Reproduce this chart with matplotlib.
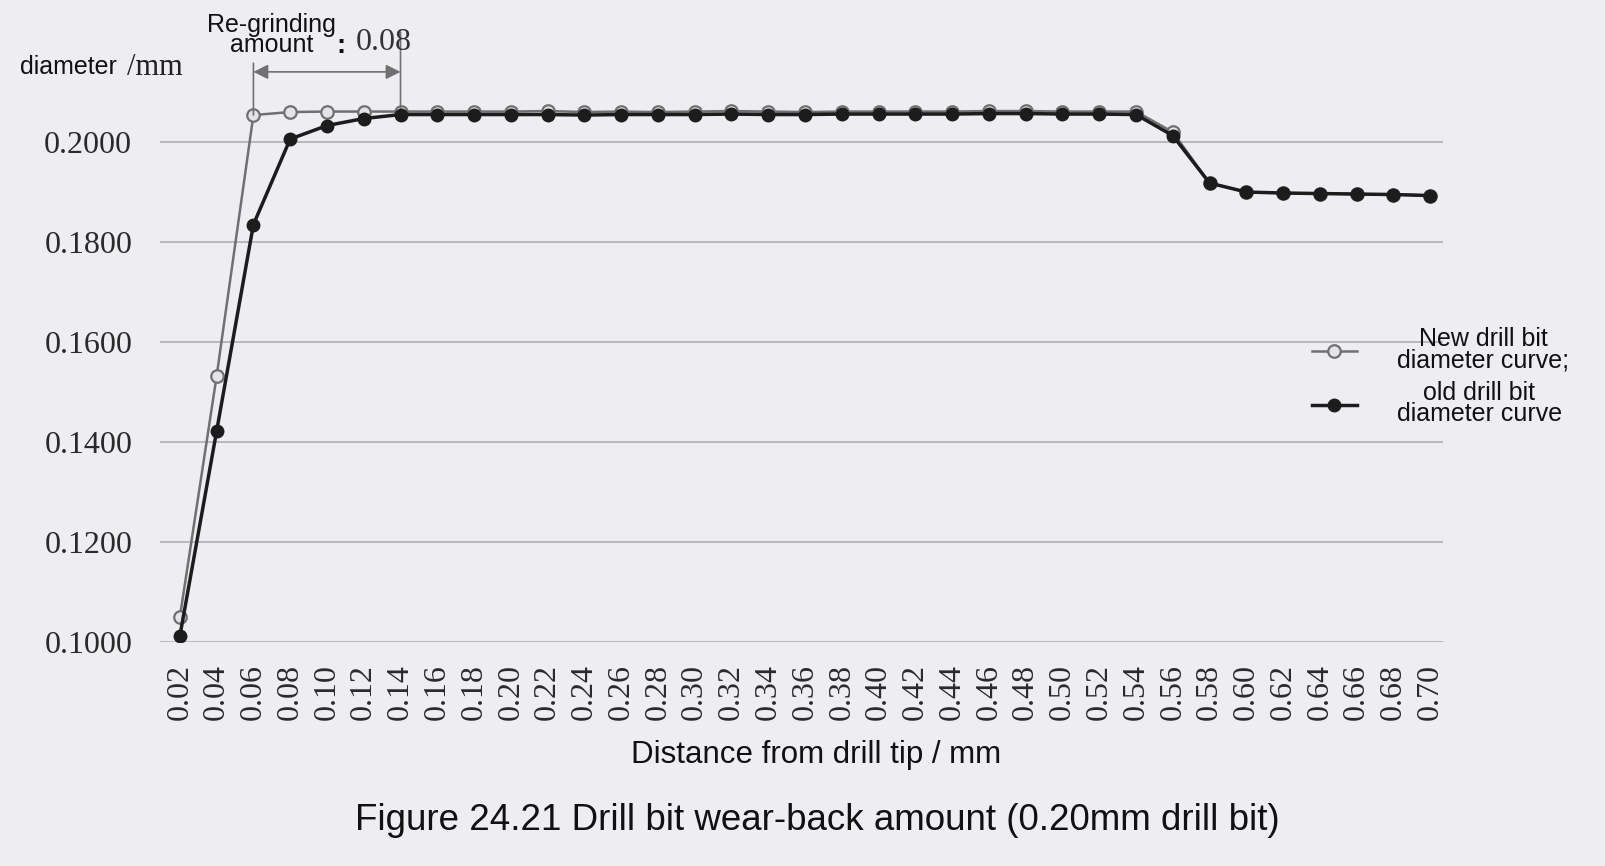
import matplotlib
matplotlib.use("Agg")
import matplotlib.pyplot as plt

# ---------------- data ----------------
distance_labels = ["0.02", "0.04", "0.06", "0.08", "0.10", "0.12", "0.14", "0.16", "0.18", "0.20",
                   "0.22", "0.24", "0.26", "0.28", "0.30", "0.32", "0.34", "0.36", "0.38", "0.40",
                   "0.42", "0.44", "0.46", "0.48", "0.50", "0.52", "0.54", "0.56", "0.58", "0.60",
                   "0.62", "0.64", "0.66", "0.68", "0.70"]
new_bit = [0.1050, 0.1532, 0.2054, 0.2060, 0.2061, 0.2061, 0.2061, 0.2061, 0.2061, 0.2061,
           0.2062, 0.2060, 0.2061, 0.2060, 0.2061, 0.2062, 0.2061, 0.2060, 0.2061, 0.2061,
           0.2061, 0.2061, 0.2062, 0.2062, 0.2061, 0.2061, 0.2061, 0.2020, 0.1918, 0.1900,
           0.1898, 0.1897, 0.1896, 0.1895, 0.1893]
old_bit = [0.1012, 0.1422, 0.1835, 0.2006, 0.2033, 0.2047, 0.2055, 0.2055, 0.2055, 0.2055,
           0.2055, 0.2054, 0.2055, 0.2055, 0.2055, 0.2056, 0.2055, 0.2055, 0.2056, 0.2056,
           0.2056, 0.2056, 0.2057, 0.2057, 0.2056, 0.2056, 0.2055, 0.2013, 0.1918, 0.1900,
           0.1898, 0.1897, 0.1896, 0.1895, 0.1893]
y_ticks = [0.1000, 0.1200, 0.1400, 0.1600, 0.1800, 0.2000]
regrind_from, regrind_to = 2, 6   # category indices of 0.06 and 0.14

BG = "#eeedf1"
NEW_C = "#707070"
OLD_C = "#1c1c1c"
SANS = ["Liberation Sans", "DejaVu Sans"]
SERIF = ["Liberation Serif", "DejaVu Serif"]

fig = plt.figure(figsize=(16.05, 8.66), dpi=100, facecolor=BG)
ax = fig.add_axes([0.0997, 0.2587, 0.7994, 0.635])
ax.set_facecolor(BG)

x = list(range(len(distance_labels)))
l_new, = ax.plot(x, new_bit, color=NEW_C, lw=1.8, marker="o", ms=9,
                 mfc="#e4e4e8", mec=NEW_C, mew=1.6, zorder=3,
                 label="New drill bit\ndiameter curve;")
l_old, = ax.plot(x, old_bit, color=OLD_C, lw=2.5, marker="o", ms=9,
                 mfc=OLD_C, mec=OLD_C, zorder=4,
                 label="old drill bit\ndiameter curve")

ax.set_xlim(-0.54, len(x) - 1 + 0.35)
ax.set_ylim(0.1, 0.21)
ax.set_yticks(y_ticks)
ax.set_yticklabels([f"{v:.4f}" for v in y_ticks], fontfamily=SERIF, fontsize=23, color="#2a2a2a")
ax.set_xticks(x)
ax.set_xticklabels(distance_labels, rotation=90, fontfamily=SERIF, fontsize=23, color="#2a2a2a")
ax.tick_params(axis="both", length=0)
ax.tick_params(axis="y", pad=20)
ax.tick_params(axis="x", pad=16)
ax.grid(axis="y", color="#a9a9ad", lw=1.1)
ax.set_axisbelow(True)
for s in ax.spines.values():
    s.set_visible(False)

ax.set_xlabel("Distance from drill tip / mm", fontfamily=SANS, fontsize=22.5, color="#111111")
ax.xaxis.set_label_coords(0.511, -0.205)
ax.xaxis.label.set_va("center")

# y-axis title
fig.text(0.0125, 0.9226, "diameter ", fontfamily=SANS, fontsize=18, ha="left", va="center", color="#111111")
fig.text(0.0791, 0.9226, "/mm", fontfamily=SERIF, fontsize=22, ha="left", va="center", color="#222222")

# re-grinding annotation
ax.annotate("", xy=(regrind_from, new_bit[regrind_from]), xycoords="data",
            xytext=(regrind_from, 0.927), textcoords=("data", "figure fraction"),
            arrowprops=dict(arrowstyle="-", color=NEW_C, lw=1.2, shrinkA=0, shrinkB=0))
ax.annotate("", xy=(regrind_to, new_bit[regrind_to]), xycoords="data",
            xytext=(regrind_to, 0.963), textcoords=("data", "figure fraction"),
            arrowprops=dict(arrowstyle="-", color=NEW_C, lw=1.2, shrinkA=0, shrinkB=0))
ax.annotate("", xy=(regrind_to, 0.917), xycoords=("data", "figure fraction"),
            xytext=(regrind_from, 0.917), textcoords=("data", "figure fraction"),
            arrowprops=dict(arrowstyle="<|-|>", color=NEW_C, lw=1.2,
                            mutation_scale=22, shrinkA=0, shrinkB=0))
fig.text(0.169, 0.960, "Re-grinding\namount", fontfamily=SANS, fontsize=18, ha="center",
         va="center", multialignment="center", linespacing=0.78, color="#111111")
fig.text(0.2125, 0.947, ":", fontfamily=SANS, fontsize=20, fontweight="bold",
         ha="center", va="center", color="#111111")
fig.text(0.2389, 0.9515, "0.08", fontfamily=SERIF, fontsize=23, ha="center", va="center", color="#333333")

# legend
leg = ax.legend(handles=[l_new, l_old], loc="center left",
                bbox_to_anchor=(0.8174, 0.5647), bbox_transform=fig.transFigure,
                frameon=False, prop={"family": SANS, "size": 18},
                handlelength=1.8, handletextpad=1.6, labelspacing=0.35,
                borderpad=0, borderaxespad=0)
for t in leg.get_texts():
    t.set_multialignment("center")
    t.set_linespacing(0.85)
    t.set_color("#111111")

# caption
fig.text(0.509, 0.052, "Figure 24.21 Drill bit wear-back amount (0.20mm drill bit)",
         fontfamily=SANS, fontsize=26.5, ha="center", va="center", color="#111111")

fig.savefig("out.png", dpi=100, facecolor=BG)
